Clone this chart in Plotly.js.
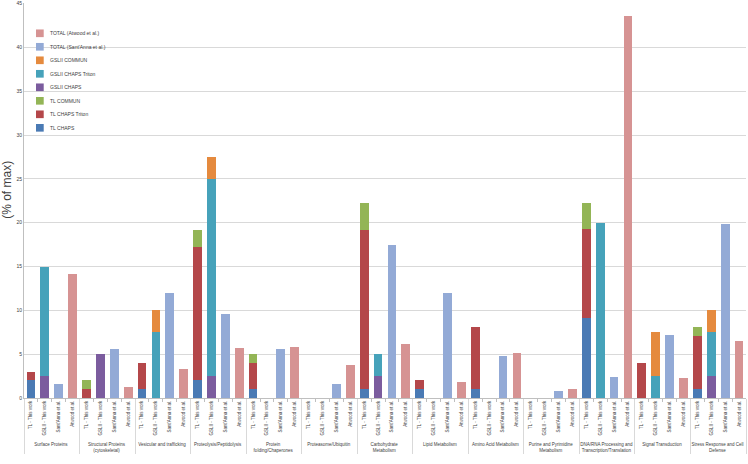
<!DOCTYPE html>
<html><head><meta charset="utf-8">
<script src="https://cdn.plot.ly/plotly-3.0.1.min.js"></script>
<style>html,body{margin:0;padding:0;background:#fff}#c{width:748px;height:464px}</style>
</head><body><div id="c"></div>
<script>
const groups = ["Surface Proteins","Structural Proteins<br>(cytoskeletal)","Vesicular and trafficking","Proteolysis/Peptidolysis","Protein<br>folding/Chaperones","Proteasome/Ubiquitin","Carbohydrate<br>Metabolism","Lipid Metabolism","Amino Acid Metabolism","Purine and Pyrimidine<br>Metabolism","DNA/RNA Processing and<br>Transcription/Translation","Signal Transduction","Stress Response and Cell<br>Defense"];
const subs = ["TL - This work","GSLII - This work","Sant'Anna et al.","Atwood et al."];
const tlChaps   = [2,0,1,2,1,0,1,1,1,0,9.1,0,1];
const tlTriton  = [1,1,3,15.2,3,0,18.2,1,7.15,0,10.15,4,6.1];
const tlCommun  = [0,1,0,2,1,0,3,0,0,0,3,0,1.05];
const gsChaps   = [2.5,5,0,2.5,0,0,2.5,0,0,0,0,0,2.5];
const gsTriton  = [12.5,0,7.5,22.5,0,0,2.5,0,0,0,20,2.5,5];
const gsCommun  = [0,0,2.5,2.5,0,0,0,0,0,0,0,5,2.5];
const santAnna  = [1.6,5.6,12,9.6,5.55,1.6,17.5,12,4.8,0.85,2.4,7.2,19.9];
const atwood    = [14.1,1.3,3.3,5.7,5.8,3.8,6.2,1.8,5.1,1.0,43.6,2.3,6.5];
const yTicks    = [0,5,10,15,20,25,30,35,40,45];

function tr(name, vals, subIdx, color){
  const x0 = [], x1 = [], y = [];
  groups.forEach((g,i) => subs.forEach((s,j) => {
    x0.push(g); x1.push(s);
    y.push(j === subIdx ? (vals[i] || null) : null);
  }));
  return {type:'bar', name:name, x:[x0,x1], y:y, marker:{color:color}, hoverinfo:'y', showlegend:false};
}
const data = [
  tr("TL CHAPS", tlChaps, 0, "#4a7ab4"),
  tr("TL CHAPS Triton", tlTriton, 0, "#b4474a"),
  tr("TL COMMUN", tlCommun, 0, "#93b556"),
  tr("GSLII CHAPS", gsChaps, 1, "#7b5c9e"),
  tr("GSLII CHAPS Triton", gsTriton, 1, "#46a2ba"),
  tr("GSLII COMMUN", gsCommun, 1, "#e58a3e"),
  tr("TOTAL (Sant'Anna et al.)", santAnna, 2, "#93aad6"),
  tr("TOTAL (Atwood et al.)", atwood, 3, "#d69393")
];

// manual legend (reversed trace order), in paper coordinates
const shapes = [], annotations = [];
const lx0 = 0.0166, lx1 = 0.0273, ly0 = 0.9233, lstep = 0.03418, half = 0.0097;
data.slice().reverse().forEach((t, k) => {
  const yc = ly0 - k*lstep;
  shapes.push({type:'rect', xref:'paper', yref:'paper', x0:lx0, x1:lx1, y0:yc-half, y1:yc+half,
    fillcolor:t.marker.color, line:{width:0}});
  annotations.push({xref:'paper', yref:'paper', x:lx1+0.006, y:yc, xanchor:'left', yanchor:'middle',
    text:t.name, showarrow:false, font:{size:5, color:'#404040'}});
});
// y-axis title
annotations.push({xref:'paper', yref:'paper', x:-0.0235, y:0.527, xanchor:'center', yanchor:'middle',
  text:'(% of max)', textangle:-90, showarrow:false, font:{size:12, color:'#404040'}});

const layout = {
  width:748, height:464, barmode:'stack', bargap:0.37,
  margin:{l:24, r:2, t:3, b:66},
  paper_bgcolor:'#fff', plot_bgcolor:'#fff',
  font:{family:"Liberation Sans, Arial, sans-serif", size:6, color:'#404040'},
  showlegend:false, shapes:shapes, annotations:annotations,
  xaxis:{type:'multicategory', tickangle:-90, tickfont:{size:4.5, color:'#404040'},
    showline:true, linecolor:'#bfbfbf', linewidth:1, ticks:'outside', tickson:'boundaries',
    ticklen:3, tickcolor:'#bfbfbf', showdividers:true, dividercolor:'#d9d9d9', dividerwidth:1,
    showgrid:false},
  yaxis:{range:[0,45.06], tickmode:'array', tickvals:yTicks, ticktext:yTicks.map(String),
    ticklabeloverflow:'allow',
    showgrid:true, gridcolor:'#d9d9d9', gridwidth:1,
    showline:true, linecolor:'#bfbfbf', zeroline:false, ticks:'', tickfont:{size:5, color:'#404040'}}
};
Plotly.newPlot('c', data, layout, {staticPlot:true});
</script></body></html>
